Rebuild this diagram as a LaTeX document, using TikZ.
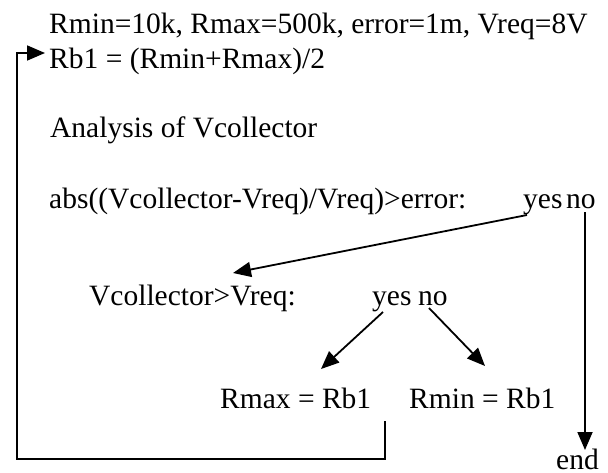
\documentclass[tikz,border=0pt]{standalone}
\usepackage{fontspec}
\setmainfont{Liberation Serif}
\usetikzlibrary{arrows.meta}
\begin{document}
\begin{tikzpicture}[x=1pt,y=-1pt,
  txt/.style={anchor=base west,inner sep=0pt,font=\fontsize{29.5}{35}\selectfont},
  arr/.style={line width=1.8pt,-{Triangle[length=18pt,width=15pt]}}]
\useasboundingbox (0,0) rectangle (608,472);
\node[txt] (t1) at (49,33) {Rmin=10k, Rmax=500k, error=1m, Vreq=8V};
\node[txt] (t2) at (49,68) {Rb1 = (Rmin+Rmax)/2};
\node[txt] (t3) at (50,137) {Analysis of Vcollector};
\node[txt] (t4) at (49,208) {abs((Vcollector-Vreq)/Vreq)>error:};
\node[txt] (yes1) at (523,208) {yes};
\node[txt] (no1) at (566,208) {no};
\node[txt] (t5) at (89,305) {Vcollector>Vreq:};
\node[txt] (yes2) at (372,305) {yes};
\node[txt] (no2) at (418,305) {no};
\node[txt] (rmax) at (220,408) {Rmax = Rb1};
\node[txt] (rmin) at (409,408) {Rmin = Rb1};
\node[txt] (end) at (556,469) {end};
% connector ends
\coordinate (y1s) at (527,215);
\coordinate (t5in) at (233,273);
\coordinate (n1s) at (585,212);
\coordinate (endin) at (585,450);
\coordinate (y2s) at (383,312);
\coordinate (rmaxin) at (321,369);
\coordinate (n2s) at (429,308);
\coordinate (rminin) at (485,366);
\coordinate (fb) at (385,421);
\coordinate (corner) at (17,459);
\coordinate (t2in) at (45,53);
\draw[arr] (y1s) -- (t5in);
\draw[arr] (n1s) -- (endin);
\draw[arr] (y2s) -- (rmaxin);
\draw[arr] (n2s) -- (rminin);
\draw[arr] (fb) |- (corner) |- (t2in);
\end{tikzpicture}
\end{document}
